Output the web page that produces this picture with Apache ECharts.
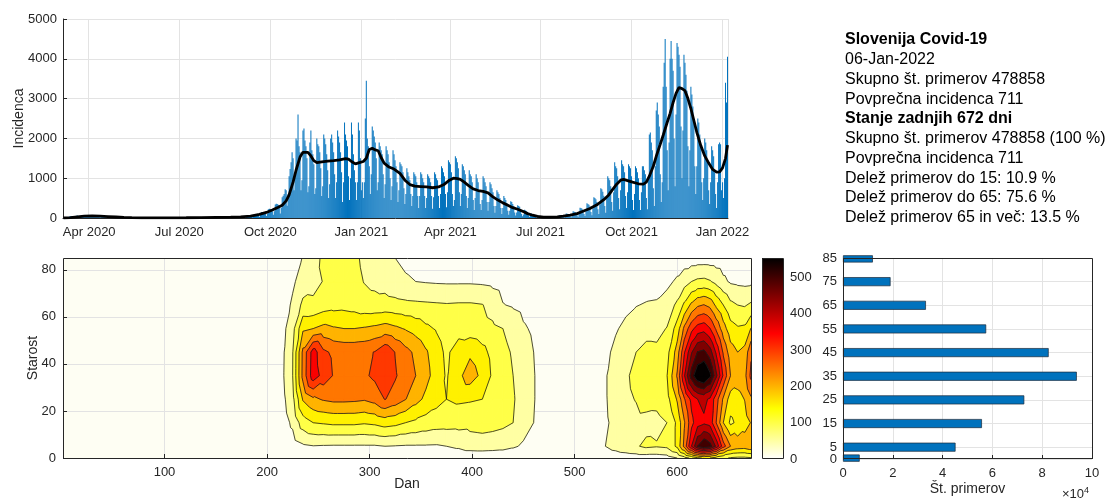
<!DOCTYPE html>
<html><head><meta charset="utf-8">
<script src="https://cdn.jsdelivr.net/npm/echarts@6/dist/echarts.min.js"></script>
<style>html,body{margin:0;padding:0;background:#fff}#c{width:1118px;height:500px}</style>
</head><body><div id="c"></div>
<script>
// ---------- DATA ----------
const startDate = '2020-03-06';
// daily confirmed cases (Fri 6 Mar 2020 ... Thu 6 Jan 2022), weeks Mon..Sun
const dailyCases = [
2,5,6,
7,16,25,35,42,45,33, 40,52,48,55,60,45,30, 45,70,60,55,65,40,30, 50,60,55,60,50,35,25,
40,45,40,38,35,25,15, 30,35,32,28,25,18,10, 20,25,22,20,18,12,8, 12,15,14,12,10,6,4,
8,9,8,6,5,3,2, 4,6,5,4,3,2,1, 3,4,3,2,2,1,1, 1,2,2,1,2,1,0,
1,2,1,2,1,1,0, 1,1,2,1,1,0,0, 2,4,5,3,4,2,1, 6,10,12,9,8,5,3,
10,15,16,14,12,8,5, 9,14,15,13,12,9,4, 8,12,13,11,10,6,3, 8,12,12,10,11,7,3,
10,15,14,13,12,8,4, 12,18,16,15,14,10,5, 12,20,18,17,18,12,6, 15,25,24,22,20,15,8,
18,30,28,27,25,18,10, 22,38,36,35,32,22,12, 30,50,48,45,42,32,18, 45,85,90,85,80,60,30,
80,150,150,145,140,100,50, 110,220,230,220,210,170,80, 170,340,360,350,330,250,110, 250,520,560,600,720,700,310,
600,1050,1230,1400,1650,1500,700, 1100,2000,1950,2600,1800,1650,700, 950,2200,2250,1950,1800,1500,650, 800,1900,2200,1700,1600,1350,600,
750,2000,1850,1800,1650,1250,550, 800,2100,2000,1850,1600,1200,500, 850,2000,2100,1900,1650,1100,500, 900,2200,2050,1900,1650,1150,400,
900,2400,2100,1950,1800,1050,450, 1000,2400,2100,1600,1200,900,450, 900,2400,2200,1500,700,900,500, 900,2500,3450,2000,1800,1300,600,
1100,2300,2200,2050,1900,1500,700, 900,1900,1800,1700,1600,1100,500, 850,1800,1700,1600,1400,1000,450, 800,1700,1600,1450,1300,900,400,
700,1400,1350,1300,1150,750,350, 600,1250,1150,1050,950,600,300, 550,1150,1100,1050,900,550,250, 550,1150,1100,1000,900,550,250,
500,1100,1050,1000,900,550,230, 520,1150,1100,1000,950,550,250, 600,1300,1250,1150,1050,600,270, 650,1450,1400,1350,1150,600,300,
450,1550,1500,1400,1250,650,300, 600,1350,1300,1200,1100,550,250, 500,1200,1100,1050,900,450,200, 500,1100,1000,900,700,350,200,
450,1050,1000,900,800,400,180, 400,900,850,750,650,300,130, 300,700,650,600,500,250,100, 250,550,500,450,380,180,80,
180,420,400,350,300,140,60, 140,320,300,280,220,100,45, 90,210,190,170,140,70,30, 50,110,100,90,70,35,15,
25,60,50,45,40,20,8, 18,40,38,35,30,15,6, 22,48,45,42,36,20,8, 30,70,65,60,55,30,12,
50,110,105,95,85,45,20, 80,170,160,150,130,70,30, 120,260,250,230,200,100,50, 170,370,350,330,290,150,70,
240,520,500,470,400,220,100, 330,750,720,660,560,300,130, 500,1050,1000,950,800,400,180, 650,1400,1300,1250,1050,500,220,
700,1450,1350,1300,1150,550,250, 650,1350,1300,1250,1050,450,200, 600,1300,1250,1150,1000,450,200, 650,1300,1300,1200,1100,500,220,
950,2100,2150,1900,1700,750,300, 1300,2700,2900,2600,2300,1100,400, 900,3300,3900,4500,3300,1700,700, 1900,4000,4450,4000,3700,2000,800,
2600,4400,4300,4100,3800,2300,1000, 2200,4100,3900,3600,3200,1800,800, 1700,3300,3100,2800,2400,1300,600, 1300,2500,2400,2100,1800,900,450,
1000,2000,1900,1700,1450,700,350, 900,1800,1700,1550,1150,600,250, 900,1850,1900,1850,700,900,500,
1000,3400,2900,4050
];
// smoothed incidence (black line) read at selected days (day 1 = 6 Mar 2020)
const avgDays = [1,8,15,22,30,38,46,54,62,70,80,95,110,125,140,155,170,180,190,199,206,212,218,222,226,229,233,236,240,243,245,248,251,254,257,262,268,274,280,286,289,292,296,300,304,307,310,313,316,319,322,325,330,335,341,346,351,356,362,368,374,380,386,391,395,399,402,406,410,415,420,425,430,435,440,445,450,455,460,465,470,475,480,486,492,500,506,513,520,526,533,540,547,552,556,560,564,567,571,576,582,587,590,593,597,600,604,607,611,614,617,620,623,626,629,632,635,638,641,645,649,653,657,661,664,667,670,672];
const avgValues = [0,10,30,45,55,45,35,25,15,8,4,2,3,6,10,15,20,30,45,90,140,200,270,320,430,580,900,1200,1530,1650,1690,1650,1560,1440,1390,1410,1430,1440,1460,1490,1480,1420,1360,1390,1420,1500,1720,1750,1710,1690,1520,1380,1280,1230,1120,950,840,800,790,780,760,780,850,950,1000,990,970,900,820,730,690,670,630,530,450,380,320,260,220,170,110,70,40,20,20,30,45,75,110,170,240,330,460,580,720,850,950,970,940,900,860,850,900,1050,1300,1550,1850,2080,2400,2630,2900,3130,3280,3250,3200,3000,2750,2450,2150,1820,1560,1380,1220,1150,1160,1260,1500,1830];
const quarterMonths = ['01','04','07','10'];
const monthNames = {'01':'Jan','04':'Apr','07':'Jul','10':'Oct'};

// age x day incidence grid (contour)
const contourDays = [1,30,60,100,150,190,205,215,225,235,245,255,265,275,285,295,305,315,325,335,345,355,365,375,387,398,410,420,430,440,450,460,470,485,505,520,530,540,550,560,570,580,590,600,607,614,620,626,632,638,645,652,659,666,672];
const contourAges = [0,5,15,25,35,45,55,65,75,85];
const contourValues = [
[0,0,0,1,1,1,1,1,1,1],
[0,1,3,5,7,8,8,7,6,7],
[0,0,1,2,3,3,3,2,2,2],
[0,0,0,0,1,0,0,0,0,0],
[0,1,2,4,4,3,2,1,1,1],
[1,3,6,10,10,9,7,5,3,3],
[1,8,16,22,24,22,18,12,8,7],
[2,12,26,36,42,40,34,25,18,14],
[4,25,60,85,100,98,82,58,42,32],
[8,42,125,205,265,262,192,112,72,52],
[14,48,150,240,380,375,200,110,85,80],
[12,46,155,255,330,310,215,125,102,110],
[10,45,160,262,296,290,205,132,115,120],
[10,45,160,262,290,285,200,135,120,125],
[10,45,160,260,290,285,200,130,115,110],
[10,45,155,255,292,288,205,120,98,90],
[10,45,160,268,310,302,212,118,88,78],
[12,50,172,302,345,338,222,120,80,68],
[12,48,165,280,305,298,210,116,66,50],
[10,46,150,252,276,266,196,112,56,40],
[10,46,140,218,250,240,180,110,50,35],
[10,46,130,188,216,206,160,108,47,30],
[9,45,122,168,178,172,146,106,45,28],
[8,50,120,150,145,140,124,104,44,26],
[8,60,118,158,188,176,130,106,44,25],
[8,75,115,155,226,190,125,106,44,25],
[8,78,118,150,186,165,118,102,42,22],
[7,75,115,135,142,135,110,80,38,20],
[7,70,110,122,122,115,100,52,32,17],
[6,58,100,105,100,94,78,45,27,14],
[5,42,76,76,72,66,55,38,22,12],
[4,28,50,53,53,50,44,30,17,9],
[3,14,25,28,28,25,22,16,10,7],
[1,4,6,7,7,6,5,4,3,2],
[3,8,10,12,12,10,8,6,4,3],
[6,25,22,25,25,20,15,10,6,4],
[12,50,42,45,45,38,28,18,10,6],
[18,70,65,75,78,62,45,28,14,8],
[22,85,80,92,95,85,62,38,18,10],
[25,95,88,102,110,100,78,48,22,12],
[25,110,85,118,128,112,86,54,26,14],
[25,104,86,114,124,110,86,56,30,16],
[30,110,100,132,148,132,102,72,38,18],
[50,160,160,205,255,222,172,110,58,22],
[80,265,245,295,395,345,262,160,80,24],
[110,400,335,365,525,445,335,212,100,25],
[140,500,380,400,592,502,372,242,110,26],
[155,548,392,412,612,512,382,252,112,26],
[150,520,380,392,562,472,352,236,104,25],
[130,440,300,322,462,392,292,190,85,24],
[110,322,200,242,342,292,222,150,60,22],
[95,250,140,175,250,222,170,112,44,20],
[90,230,160,182,226,200,156,100,40,18],
[90,226,182,202,236,216,160,96,38,17],
[95,242,202,242,312,292,202,108,40,17]
];
const contourLevels = [50,100,150,200,250,300,350,400,450,500,550];
const colorMax = 553;
const colorbarTicks = [0,100,200,300,400,500];
const dayTicks = [100,200,300,400,500,600];
const ageTicks = [0,20,40,60,80];

// cases per age group
const ageGroups = [0,5,15,25,35,45,55,65,75,85];
const ageTotals = [6700,45200,55800,72800,93900,82600,57500,33300,19100,12000];

const infoLines = [
  ['Slovenija Covid-19', true],
  ['06-Jan-2022', false],
  ['Skupno št. primerov 478858', false],
  ['Povprečna incidenca 711', false],
  ['Stanje zadnjih 672 dni', true],
  ['Skupno št. primerov 478858 (100 %)', false],
  ['Povprečna incidenca 711', false],
  ['Delež primerov do 15: 10.9 %', false],
  ['Delež primerov do 65: 75.6 %', false],
  ['Delež primerov 65 in več: 13.5 %', false]
];

// ---------- HELPERS ----------
const FONT = '"Liberation Sans", Arial, Helvetica, sans-serif';
const AXC = '#262626';
const GRIDC = '#e3e3e3';
const dates = [];
(function(){const d0=new Date(startDate+'T00:00:00Z');for(let i=0;i<dailyCases.length;i++){dates.push(new Date(d0.getTime()+i*86400000).toISOString().slice(0,10));}})();
const isQuarter = (idx, v) => v.slice(8,10)==='01' && quarterMonths.indexOf(v.slice(5,7))>=0;

function hotFlip(t){
  t=Math.max(0,Math.min(1,t)); const u=1-t;
  const r=Math.min(1,u/0.375), g=Math.max(0,Math.min(1,(u-0.375)/0.375)), b=Math.max(0,Math.min(1,(u-0.75)/0.25));
  return 'rgb('+Math.round(r*255)+','+Math.round(g*255)+','+Math.round(b*255)+')';
}
function allTris(api){
  const out=[];
  const c=(a,b)=>({p:api.coord([contourDays[a],contourAges[b]]),v:contourValues[a][b]});
  for(let i=0;i<contourDays.length-1;i++)for(let j=0;j<contourAges.length-1;j++){
    const p00=c(i,j),p10=c(i+1,j),p11=c(i+1,j+1),p01=c(i,j+1);
    out.push([p00,p10,p11],[p00,p11,p01]);
  }
  return out;
}
function clipTri(tri,L){
  const out=[];
  for(let k=0;k<3;k++){const A=tri[k],B=tri[(k+1)%3];const ia=A.v>=L,ib=B.v>=L;
    if(ia)out.push(A.p);
    if(ia!==ib){const t=(L-A.v)/(B.v-A.v);out.push([A.p[0]+t*(B.p[0]-A.p[0]),A.p[1]+t*(B.p[1]-A.p[1])]);}}
  return out;
}
// level-major painting of filled contours (one item draws the whole field)
function renderFill(params,api){
  const ch=[]; const T=allTris(api);
  for(const L of contourLevels){
    const col=hotFlip(L/colorMax);
    for(const tri of T){
      if(Math.max(tri[0].v,tri[1].v,tri[2].v)<L)continue;
      const poly=clipTri(tri,L);
      if(poly.length>=3)ch.push({type:'polygon',shape:{points:poly},style:{fill:col,stroke:col,lineWidth:0.9}});
    }
  }
  return {type:'group',children:ch};
}
function renderLines(params,api){
  const ch=[]; const T=allTris(api);
  for(const tri of T){
    for(const L of contourLevels){
      const pts=[];
      for(let k=0;k<3;k++){const A=tri[k],B=tri[(k+1)%3];if((A.v>=L)!==(B.v>=L)){const t=(L-A.v)/(B.v-A.v);pts.push([A.p[0]+t*(B.p[0]-A.p[0]),A.p[1]+t*(B.p[1]-A.p[1])]);}}
      if(pts.length===2)ch.push({type:'line',shape:{x1:pts[0][0],y1:pts[0][1],x2:pts[1][0],y2:pts[1][1]},style:{stroke:'#1e1e1e',lineWidth:0.8}});
    }
  }
  return {type:'group',children:ch};
}
const fieldItem=[[contourDays[0],contourAges[0]]];
const ageCats=[];for(let a=0;a<=85;a++)ageCats.push(String(a));
const isAgeTick=(idx,v)=>ageGroups.indexOf(Number(v))>=0;
const isAgeLabel=(idx,v)=>Number(v)!==ageGroups[0]&&ageGroups.indexOf(Number(v))>=0;
const gradStops=[];for(let k=0;k<=8;k++)gradStops.push({offset:k/8,color:hotFlip(k/8)});

const lbl={color:AXC,fontSize:13,fontFamily:FONT};
const nameSt={color:AXC,fontSize:14,fontFamily:FONT};

const option={
  animation:false,
  textStyle:{fontFamily:FONT},
  grid:[
    {left:63,top:19,width:665,height:199},
    {left:63,top:258,width:688,height:200,show:true,backgroundColor:'#fefef3',borderWidth:0},
    {left:762,top:258,width:21,height:201},
    {left:843,top:258,width:249,height:201}
  ],
  xAxis:[
    {gridIndex:0,type:'category',data:dates,boundaryGap:true,
     axisLine:{lineStyle:{color:AXC}},
     axisTick:{interval:isQuarter,inside:true,length:4,lineStyle:{color:AXC}},
     axisLabel:Object.assign({interval:isQuarter,margin:8,formatter:v=>monthNames[v.slice(5,7)]+' '+v.slice(0,4)},lbl),
     splitLine:{show:true,interval:isQuarter,lineStyle:{color:GRIDC}}},
    {gridIndex:0,type:'value',min:0.5,max:dailyCases.length+0.5,show:false},
    {gridIndex:1,type:'value',min:1,max:672,
     axisLine:{show:false},
     axisTick:{show:true,inside:true,length:4,customValues:dayTicks,lineStyle:{color:AXC}},
     axisLabel:Object.assign({customValues:dayTicks,margin:8},lbl),
     splitLine:{show:true,lineStyle:{color:GRIDC}},
     name:'Dan',nameLocation:'middle',nameGap:19,nameMoveOverlap:false,nameTextStyle:nameSt},
    {gridIndex:2,type:'category',data:['c'],show:false},
    {gridIndex:3,type:'value',min:0,max:100000,interval:20000,
     axisLine:{show:false},axisTick:{inside:true,length:4,lineStyle:{color:AXC}},
     axisLabel:Object.assign({formatter:v=>String(v/10000),margin:8},lbl),
     splitLine:{show:true,lineStyle:{color:GRIDC}},
     name:'Št. primerov',nameLocation:'middle',nameGap:23,nameMoveOverlap:false,nameTextStyle:nameSt}
  ],
  yAxis:[
    {gridIndex:0,type:'value',min:0,max:5000,interval:1000,
     axisLine:{show:true,lineStyle:{color:AXC}},axisTick:{show:true,inside:true,length:4,lineStyle:{color:AXC}},
     axisLabel:Object.assign({margin:6,formatter:v=>String(v)},lbl),splitLine:{show:true,lineStyle:{color:GRIDC}},
     name:'Incidenca',nameLocation:'middle',nameGap:37,nameMoveOverlap:false,nameRotate:90,nameTextStyle:nameSt},
    {gridIndex:1,type:'value',min:0,max:85,
     axisLine:{show:false},axisTick:{show:true,inside:true,length:4,customValues:ageTicks,lineStyle:{color:AXC}},
     axisLabel:Object.assign({customValues:ageTicks,margin:7},lbl),splitLine:{show:true,lineStyle:{color:GRIDC}},
     name:'Starost',nameLocation:'middle',nameGap:23,nameMoveOverlap:false,nameRotate:90,nameTextStyle:nameSt},
    {gridIndex:2,type:'value',min:0,max:colorMax,position:'right',
     axisLine:{show:false},axisTick:{show:false,customValues:colorbarTicks},
     axisLabel:Object.assign({customValues:colorbarTicks,margin:7},lbl),splitLine:{show:false}},
    {gridIndex:3,type:'category',data:ageCats,boundaryGap:false,
     axisLine:{show:false},axisTick:{show:true,inside:true,length:4,interval:isAgeTick,lineStyle:{color:AXC}},
     axisLabel:Object.assign({interval:isAgeLabel,margin:6,showMinLabel:true,showMaxLabel:true,hideOverlap:false},lbl),
     splitLine:{show:true,interval:isAgeTick,lineStyle:{color:GRIDC}}},
    {gridIndex:3,type:'value',min:0,max:85,position:'left',
     axisLine:{show:false},axisTick:{show:false,customValues:[ageGroups[0]]},splitLine:{show:false},
     axisLabel:Object.assign({customValues:[ageGroups[0]],margin:6,showMinLabel:true},lbl)}
  ],
  series:[
    {type:'bar',xAxisIndex:0,yAxisIndex:0,data:dailyCases,itemStyle:{color:'#0072BD'},barCategoryGap:'0%',silent:true},
    {type:'line',xAxisIndex:1,yAxisIndex:0,data:avgDays.map((d,i)=>[d,avgValues[i]]),showSymbol:false,smooth:false,
     lineStyle:{color:'#000',width:2.8},z:5,silent:true},
    {type:'custom',xAxisIndex:2,yAxisIndex:1,data:fieldItem,encode:{x:0,y:1},renderItem:renderFill,clip:true,silent:true,z:2},
    {type:'custom',xAxisIndex:2,yAxisIndex:1,data:fieldItem,encode:{x:0,y:1},renderItem:renderLines,clip:true,silent:true,z:3},
    {type:'bar',xAxisIndex:3,yAxisIndex:2,data:[colorMax],barWidth:'100%',silent:true,
     itemStyle:{color:{type:'linear',x:0,y:1,x2:0,y2:0,colorStops:gradStops}}},
    {type:'bar',xAxisIndex:4,yAxisIndex:3,data:ageGroups.map((a,i)=>[ageTotals[i],String(a)]),encode:{x:0,y:1},
     barWidth:9,clip:true,silent:true,itemStyle:{color:'#0072BD',borderColor:'#1b2a3a',borderWidth:0.7}}
  ],
  graphic:[
    {type:'rect',shape:{x:63.5,y:258.5,width:688,height:200},style:{fill:null,stroke:AXC,lineWidth:1},z:100,silent:true},
    {type:'rect',shape:{x:762.5,y:258.5,width:21,height:200},style:{fill:null,stroke:AXC,lineWidth:1},z:100,silent:true},
    {type:'rect',shape:{x:843.5,y:258.5,width:249,height:200},style:{fill:null,stroke:AXC,lineWidth:1},z:100,silent:true},
    {type:'text',x:1062,y:486,style:{text:'×10{s|4}',fill:AXC,font:'13px '+FONT,rich:{s:{fontSize:9,verticalAlign:'top',padding:[0,0,7,0],fill:AXC}}},z:100},
  ].concat(infoLines.map((ln,i)=>({type:'text',x:845,y:40+19.75*i,
     style:{text:ln[0],fill:'#000',font:(ln[1]?'bold ':'')+'16px '+FONT,verticalAlign:'middle'},z:100})))
};
const chart=echarts.init(document.getElementById('c'),null,{renderer:'canvas'});
chart.setOption(option);
</script></body></html>
